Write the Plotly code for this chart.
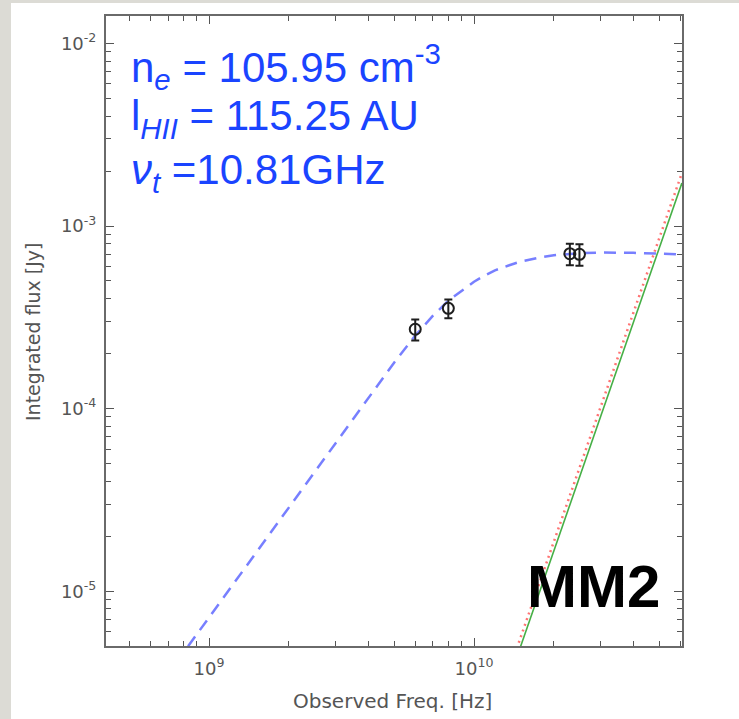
import plotly.graph_objects as go

# ---- data ----
obs_freq_hz = [6.0e9, 8.0e9, 23.0e9, 25.0e9]
obs_flux_jy = [2.72e-4, 3.54e-4, 7.05e-4, 7.0e-4]
obs_err_jy = [0.36e-4, 0.42e-4, 0.95e-4, 0.95e-4]

model_freq_hz = [0.5e9, 0.7e9, 0.8e9, 1.0e9, 1.5e9, 2.0e9, 3.0e9, 4.0e9, 5.0e9, 6.0e9,
                 7.0e9, 8.0e9, 9.0e9, 10.0e9, 11.0e9, 12.0e9, 13.5e9, 15.0e9, 17.5e9,
                 20.0e9, 25.0e9, 30.0e9, 40.0e9, 50.0e9, 65.0e9]
model_flux_jy = [1.8e-6, 3.52e-6, 4.6e-6, 7.2e-6, 1.62e-5, 2.88e-5, 6.47e-5, 1.15e-4,
                 1.79e-4, 2.51e-4, 3.23e-4, 3.90e-4, 4.45e-4, 4.95e-4, 5.37e-4, 5.72e-4,
                 6.08e-4, 6.39e-4, 6.70e-4, 6.91e-4, 7.10e-4, 7.16e-4, 7.13e-4, 7.07e-4,
                 6.96e-4]

dust_freq_hz = [14.9e9, 60.9e9]
dust_flux_jy = [4.86e-6, 1.72e-3]
total_freq_hz = [14.5e9, 60.9e9]
total_flux_jy = [4.86e-6, 1.95e-3]

x_range_log = [8.611, 10.785]
y_range_log = [-5.30, -1.85]

y_major = [1e-5, 1e-4, 1e-3, 1e-2]
y_major_text = ["10<sup>-5</sup>", "10<sup>-4</sup>", "10<sup>-3</sup>", "10<sup>-2</sup>"]
x_major = [1e9, 1e10]
x_major_text = ["10<sup>9</sup>", "10<sup>10</sup>"]

y_minor = [m * 10.0 ** e for e in range(-6, -1) for m in range(2, 10)]
x_minor = [m * 10.0 ** e for e in range(8, 11) for m in range(2, 10)]

# ---- layout geometry (pixels) ----
W, H = 739, 719
L, R, T, B = 106, 682, 16, 646
pw, ph = R - L, B - T


def px(xp):
    return (xp - L) / pw


def py(yp):
    return (B - yp) / ph


fig = go.Figure()

fig.add_trace(go.Scatter(x=model_freq_hz, y=model_flux_jy, mode="lines",
                         line=dict(color="rgba(95,105,255,0.85)", width=2.5, dash="12px,8px"),
                         showlegend=False, hoverinfo="skip"))
fig.add_trace(go.Scatter(x=total_freq_hz, y=total_flux_jy, mode="lines",
                         line=dict(color="rgba(255,80,80,0.8)", width=2.5, dash="2px,4px"),
                         showlegend=False))
fig.add_trace(go.Scatter(x=dust_freq_hz, y=dust_flux_jy, mode="lines",
                         line=dict(color="rgb(70,175,70)", width=1.6),
                         showlegend=False))
fig.add_trace(go.Scatter(x=obs_freq_hz, y=obs_flux_jy, mode="markers",
                         marker=dict(symbol="circle-open", size=11, color="#1e1e1e",
                                     line=dict(width=2, color="#1e1e1e")),
                         error_y=dict(type="data", array=obs_err_jy, color="#1e1e1e",
                                      thickness=2, width=4),
                         showlegend=False))
# invisible trace that carries the minor-tick axes
fig.add_trace(go.Scatter(x=[2e9, 3e9], y=[2e-5, 3e-5], xaxis="x2", yaxis="y2",
                         mode="lines", line=dict(color="rgba(0,0,0,0)"), showlegend=False,
                         hoverinfo="skip"))

tick_font = dict(family="DejaVu Sans", size=18, color="#555")
axis_common = dict(showline=True, linecolor="#6a6a6a", linewidth=2, mirror="allticks",
                   ticks="inside", ticklen=8, tickwidth=1.2, tickcolor="#555",
                   showgrid=False, zeroline=False, tickfont=tick_font)
minor_common = dict(showline=True, linecolor="rgba(0,0,0,0)", linewidth=2,
                    mirror="allticks", ticks="inside", ticklen=5,
                    tickwidth=1.2, tickcolor="#555", showgrid=False, zeroline=False,
                    showticklabels=False)

fig.update_layout(
    xaxis=dict(type="log", range=x_range_log, tickmode="array", tickvals=x_major,
               ticktext=x_major_text, ticklabelstandoff=5, **axis_common),
    yaxis=dict(type="log", range=y_range_log, tickmode="array", tickvals=y_major,
               ticktext=y_major_text, ticklabelstandoff=4, **axis_common),
    xaxis2=dict(type="log", range=x_range_log, tickmode="array", tickvals=x_minor,
                overlaying="x", anchor="y2", side="bottom", **minor_common),
    yaxis2=dict(type="log", range=y_range_log, tickmode="array", tickvals=y_minor,
                overlaying="y", anchor="x2", side="left", **minor_common),
)

blue = "#1a44ff"
tfont = dict(family="Liberation Sans", size=42, color=blue)
ann = [
    dict(text="n<sub><i>e</i></sub> = 105.95 cm<sup>-3</sup>", x=px(129), y=py(66),
         xanchor="left", yanchor="middle", font=tfont),
    dict(text="l<sub><i>HII</i></sub> = 115.25 AU", x=px(129), y=py(119),
         xanchor="left", yanchor="middle", font=tfont),
    dict(text="<i>ν</i><sub><i>t</i></sub> =10.81GHz", x=px(129), y=py(172),
         xanchor="left", yanchor="middle", font=tfont),
    dict(text="<b>MM2</b>", x=px(593), y=py(586), xanchor="center", yanchor="middle",
         font=dict(family="Liberation Sans", size=60, color="black")),
    dict(text="Integrated flux [Jy]", x=px(33), y=py(332), textangle=-90, xanchor="center",
         yanchor="middle", font=dict(family="DejaVu Sans", size=19, color="#555")),
    dict(text="Observed Freq. [Hz]", x=px(392), y=py(701), xanchor="center", yanchor="middle",
         font=dict(family="DejaVu Sans", size=20, color="#555")),
]
for a in ann:
    a.update(xref="paper", yref="paper", showarrow=False)

fig.update_layout(
    width=W, height=H, margin=dict(l=L, r=W - R, t=T, b=H - B),
    paper_bgcolor="#dcdbd5", plot_bgcolor="white",
    annotations=ann,
    shapes=[dict(type="rect", xref="paper", yref="paper", layer="below",
                 x0=px(11), x1=px(745), y0=py(725), y1=py(3),
                 fillcolor="white", line=dict(width=0))],
)

fig.write_html("out.html")
